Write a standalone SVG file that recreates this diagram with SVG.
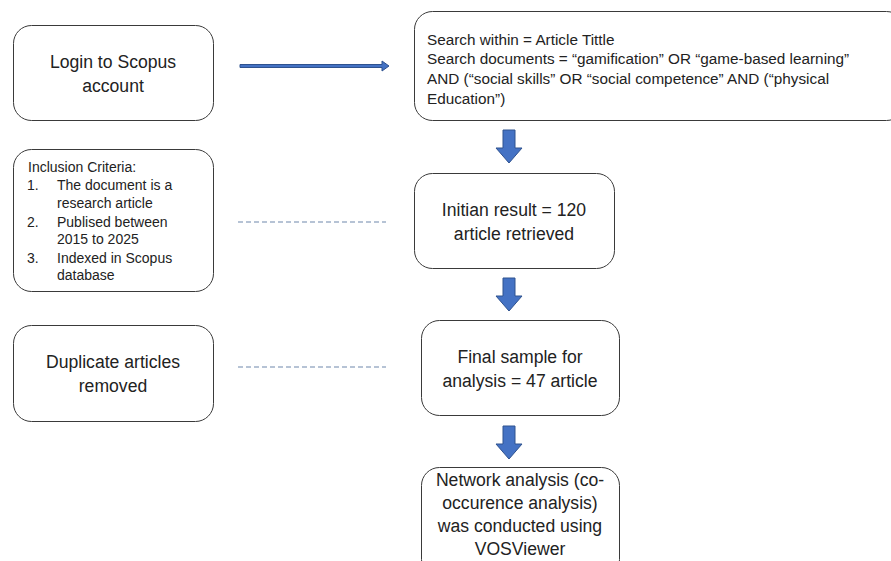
<svg xmlns="http://www.w3.org/2000/svg" width="891" height="561" viewBox="0 0 891 561">
<style>
.box{fill:#fff;stroke:#3a3a3a;stroke-width:1}
text{font-family:"Liberation Sans",Arial,sans-serif;fill:#222}
.m{font-size:17.6px;text-anchor:middle}
.s{font-size:15.3px}
.c{font-size:14px}
.arr{fill:#4472C4;stroke:#2F528F;stroke-width:1}
.dash{stroke:#9fb0c8;stroke-width:1.3;stroke-dasharray:5,3;fill:none}
</style>
<rect width="891" height="561" fill="#fff"/>
<g id="connectors">
<path class="arr" d="M240,64.5 H382 V61 L389,66 L382,71 V67.5 H240 Z"/>
<path class="arr" d="M503,130 H515 V148 H522 L509,163 L496,148 H503 Z"/>
<path class="arr" d="M503,278 H515 V296 H522 L509,311 L496,296 H503 Z"/>
<path class="arr" d="M503,426 H515 V444 H522 L509,459 L496,444 H503 Z"/>
<line class="dash" x1="238" y1="222" x2="386" y2="222"/>
<line class="dash" x1="238" y1="367" x2="386" y2="367"/>
</g>
<g id="login">
<rect class="box" x="13.5" y="25.5" width="200" height="95" rx="18"/>
<text class="m" x="113" y="68">Login to Scopus</text>
<text class="m" x="113" y="92">account</text>
</g>
<g id="search">
<rect class="box" x="414.5" y="11.5" width="490" height="109" rx="18"/>
<text class="s" x="427" y="45">Search within = Article Tittle</text>
<text class="s" x="427" y="64">Search documents = “gamification” OR “game-based learning”</text>
<text class="s" x="427" y="84">AND (“social skills” OR “social competence” AND (“physical</text>
<text class="s" x="427" y="104">Education”)</text>
</g>
<g id="inclusion">
<rect class="box" x="13.5" y="149.5" width="200" height="142" rx="18"/>
<text class="c" x="28" y="172">Inclusion Criteria:</text>
<text class="c" x="27" y="190">1.</text><text class="c" x="57" y="190">The document is a</text>
<text class="c" x="57" y="208">research article</text>
<text class="c" x="27" y="227">2.</text><text class="c" x="57" y="227">Publised between</text>
<text class="c" x="57" y="244">2015 to 2025</text>
<text class="c" x="27" y="263">3.</text><text class="c" x="57" y="263">Indexed in Scopus</text>
<text class="c" x="57" y="280">database</text>
</g>
<g id="initial">
<rect class="box" x="414.5" y="173.5" width="200" height="95" rx="18"/>
<text class="m" x="514" y="216">Initian result = 120</text>
<text class="m" x="514" y="240">article retrieved</text>
</g>
<g id="duplicate">
<rect class="box" x="13.5" y="325.5" width="200" height="96" rx="18"/>
<text class="m" x="113" y="368">Duplicate articles</text>
<text class="m" x="113" y="392">removed</text>
</g>
<g id="final">
<rect class="box" x="421.5" y="320.5" width="198" height="95" rx="18"/>
<text class="m" x="520" y="363">Final sample for</text>
<text class="m" x="520" y="387">analysis = 47 article</text>
</g>
<g id="network">
<rect class="box" x="421.5" y="467.5" width="198" height="110" rx="18"/>
<text class="m" x="520" y="486">Network analysis (co-</text>
<text class="m" x="520" y="509">occurence analysis)</text>
<text class="m" x="520" y="532">was conducted using</text>
<text class="m" x="520" y="555">VOSViewer</text>
</g>
</svg>
